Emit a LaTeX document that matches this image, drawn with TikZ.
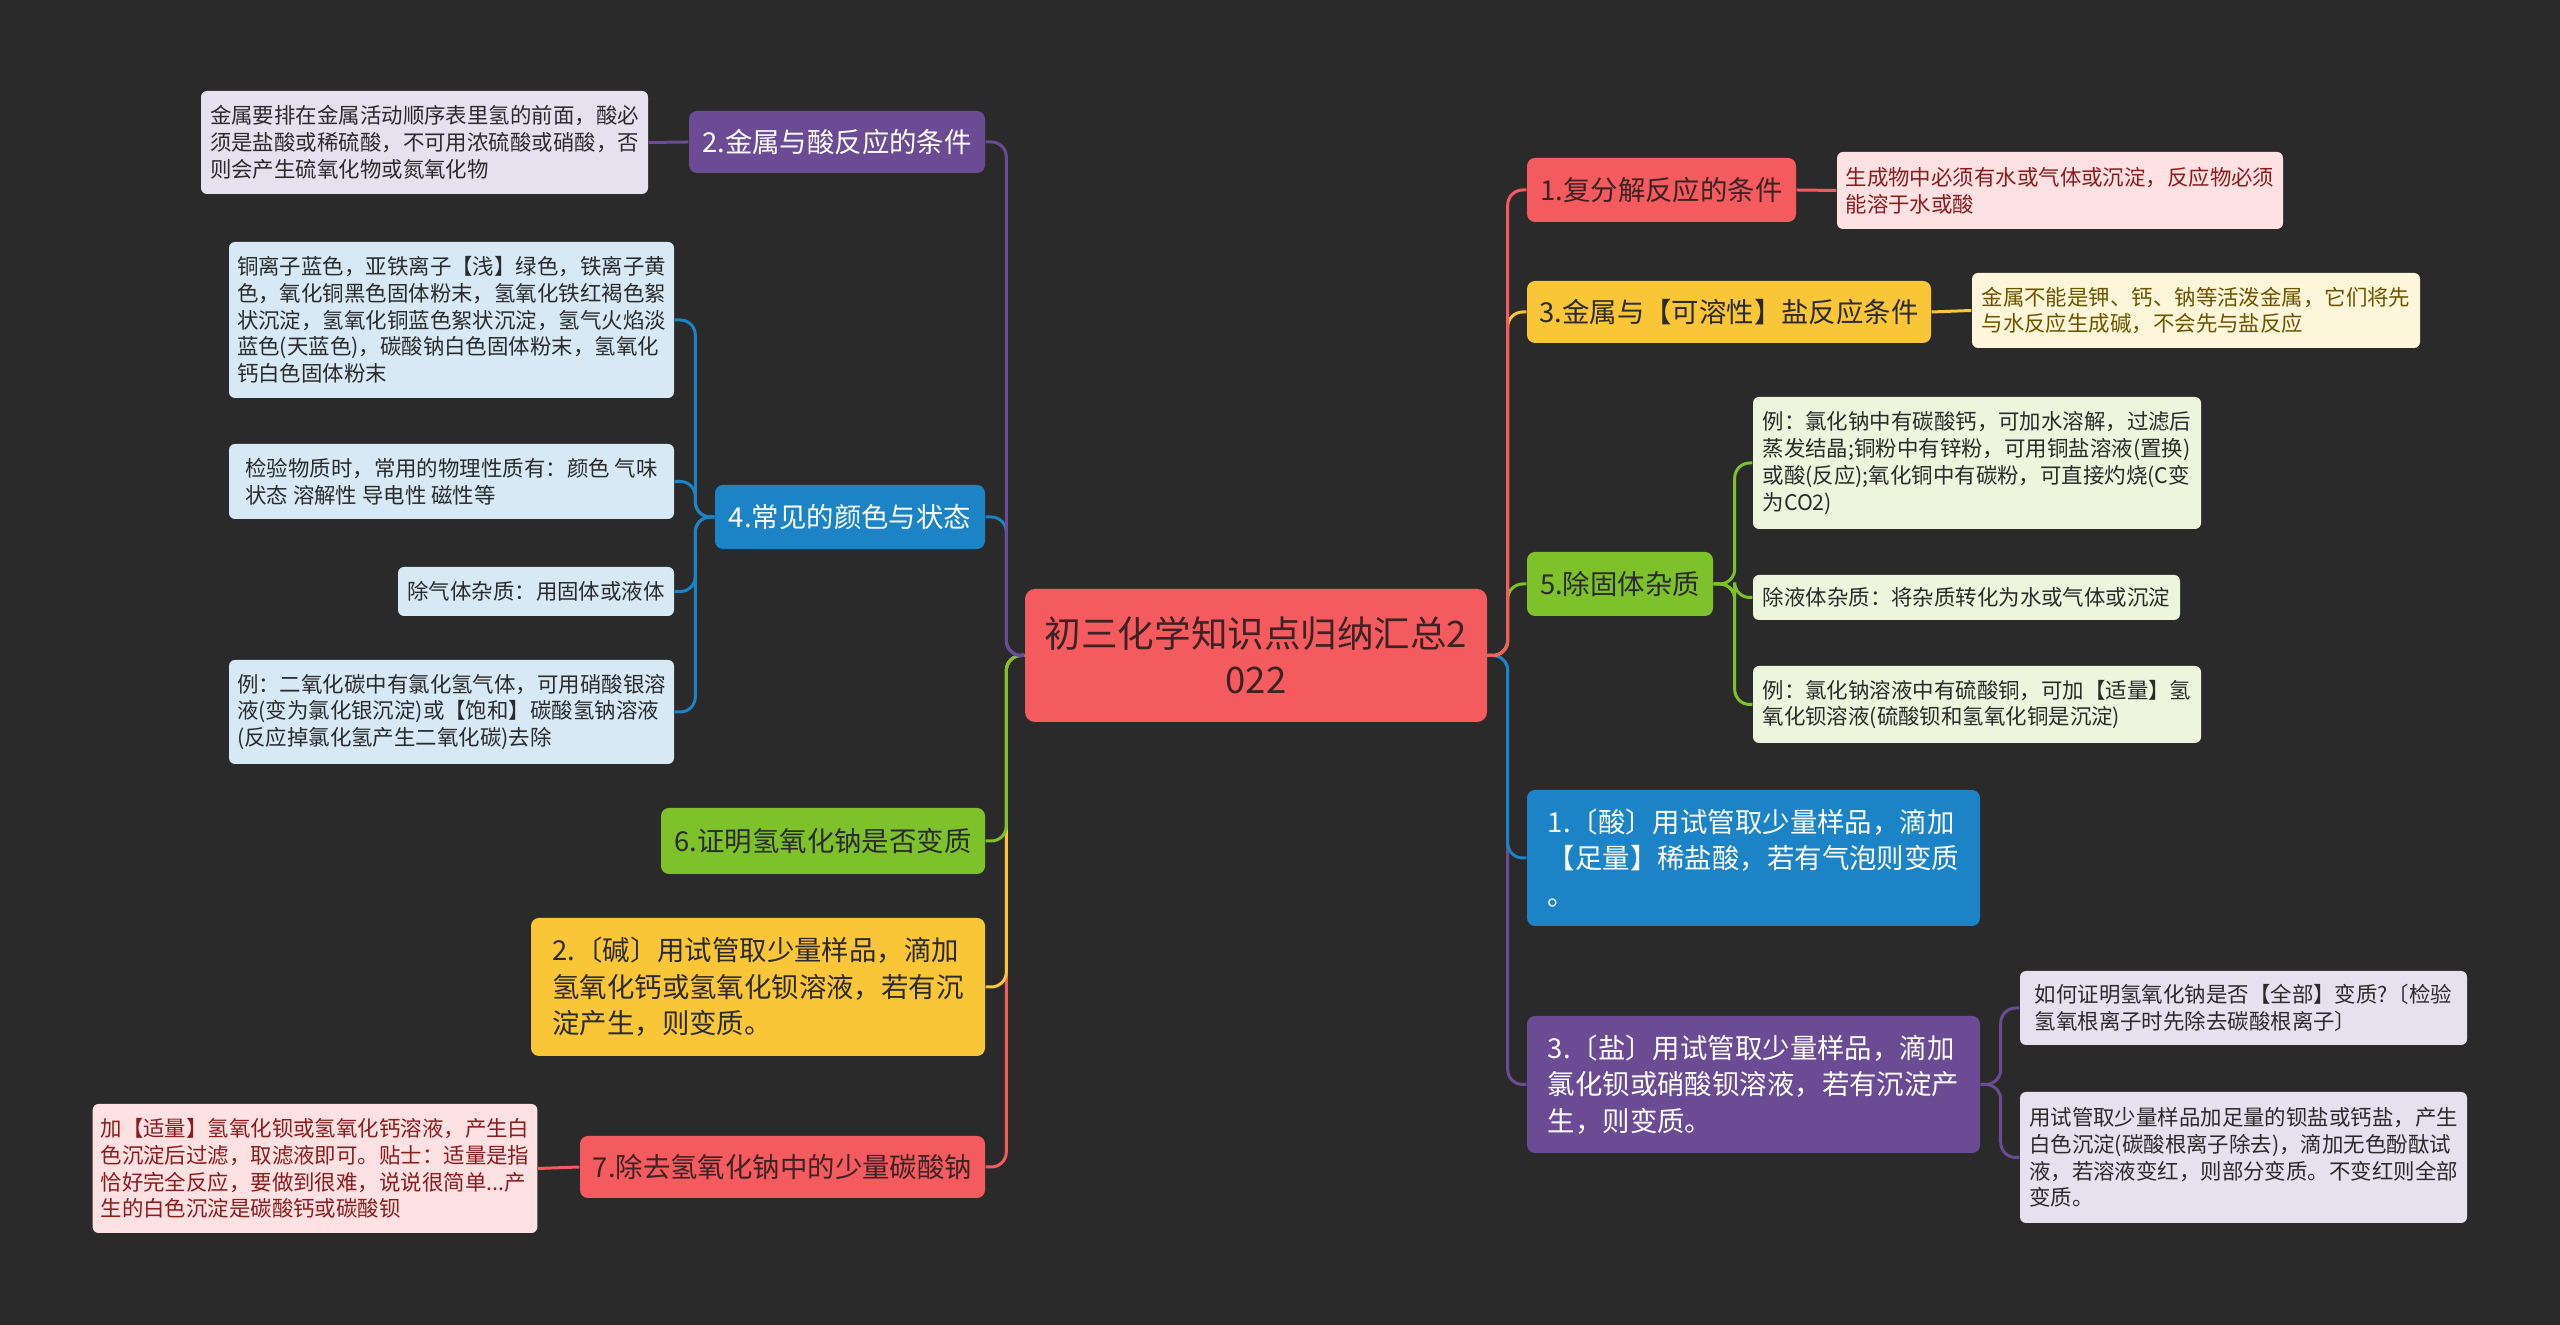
\documentclass[tikz,border=0pt]{standalone}
\usepackage{fontspec}
\setmainfont{Noto Sans CJK SC}
\usetikzlibrary{calc}

\definecolor{bgdark}{HTML}{2A2A2A}
\definecolor{cred}{HTML}{F45B5E}
\definecolor{cpurple}{HTML}{6B4C94}
\definecolor{cblue}{HTML}{1C83C6}
\definecolor{cgreen}{HTML}{7DC22B}
\definecolor{cyellow}{HTML}{F8C636}
\definecolor{lpurple}{HTML}{E6E1EF}
\definecolor{lblue}{HTML}{D6E9F5}
\definecolor{lpink}{HTML}{FDE1E3}
\definecolor{lyellow}{HTML}{FDF6DA}
\definecolor{lgreen}{HTML}{EDF5DC}
\definecolor{inkdark}{HTML}{2B2B2B}
\definecolor{inkred}{HTML}{3C2224}
\definecolor{inkpink}{HTML}{8C1D1F}
\definecolor{inkyellow}{HTML}{6E5300}

\tikzset{
  sz/.style 2 args={minimum width=#1mm, minimum height=#2mm},
  root/.style={fill=cred, text=inkred, rounded corners=1mm, inner sep=0,
    align=center, font=\fontsize{10.4}{13.2}\selectfont},
  topic/.style={rounded corners=0.8mm, inner sep=1mm, align=left,
    font=\fontsize{7.8}{10.4}\selectfont},
  leaf/.style={rounded corners=0.6mm, inner sep=0.8mm, align=left,
    text=inkdark, font=\fontsize{6.1}{7.6}\selectfont},
  link/.style={draw=#1, line width=0.85pt, rounded corners=1.5mm},
}

\begin{document}
\begin{tikzpicture}[x=0.1mm, y=-0.1mm]
\fill[bgdark] (0,0) rectangle (2560,1325);
\useasboundingbox (0,0) rectangle (2560,1325);

% centre
\node[root, sz={46.2}{13.3}] (root) at (1256,655.5) {初三化学知识点归纳汇总2\\022};

% left branches
\node[topic, sz={29.6}{6.2}, fill=cpurple, text=white] (acid) at (837,142) {2.金属与酸反应的条件};
\node[leaf, sz={44.7}{10.3}, fill=lpurple] (acidN) at (424.5,142.5) {金属要排在金属活动顺序表里氢的前面，酸必\\须是盐酸或稀硫酸，不可用浓硫酸或硝酸，否\\则会产生硫氧化物或氮氧化物};

\node[topic, sz={27}{6.4}, fill=cblue, text=white] (color) at (850,517) {4.常见的颜色与状态};
\node[leaf, sz={44.5}{15.6}, fill=lblue] (colorA) at (451.5,320) {铜离子蓝色，亚铁离子【浅】绿色，铁离子黄\\色，氧化铜黑色固体粉末，氢氧化铁红褐色絮\\状沉淀，氢氧化铜蓝色絮状沉淀，氢气火焰淡\\蓝色(天蓝色)，碳酸钠白色固体粉末，氢氧化\\钙白色固体粉末};
\node[leaf, sz={44.5}{7.5}, fill=lblue] (colorB) at (451.5,481.5) {检验物质时，常用的物理性质有：颜色 气味\\状态 溶解性 导电性 磁性等};
\node[leaf, sz={27.6}{4.9}, fill=lblue] (colorC) at (536,591.5) {除气体杂质：用固体或液体};
\node[leaf, sz={44.5}{10.4}, fill=lblue] (colorD) at (451.5,712) {例：二氧化碳中有氯化氢气体，可用硝酸银溶\\液(变为氯化银沉淀)或【饱和】碳酸氢钠溶液\\{(反应掉氯化氢产生二氧化碳)去除}};

\node[topic, sz={32.4}{6.6}, fill=cgreen, text=inkdark] (proof) at (823,841) {6.证明氢氧化钠是否变质};
\node[topic, sz={45.4}{13.8}, fill=cyellow, text=inkdark] (base) at (758,987) {2.〔碱〕用试管取少量样品，滴加\\氢氧化钙或氢氧化钡溶液，若有沉\\淀产生，则变质。};

\node[topic, sz={40.5}{6.2}, fill=cred, text=inkred] (remove) at (782.5,1167) {7.除去氢氧化钠中的少量碳酸钠};
\node[leaf, sz={44.4}{12.9}, fill=lpink, text=inkpink] (removeN) at (315,1168.5) {加【适量】氢氧化钡或氢氧化钙溶液，产生白\\色沉淀后过滤，取滤液即可。贴士：适量是指\\恰好完全反应，要做到很难，说说很简单...产\\生的白色沉淀是碳酸钙或碳酸钡};

% right branches
\node[topic, sz={26.9}{6.4}, fill=cred, text=inkred] (swap) at (1661.5,190) {1.复分解反应的条件};
\node[leaf, sz={44.6}{7.7}, fill=lpink, text=inkpink] (swapN) at (2060,190.5) {生成物中必须有水或气体或沉淀，反应物必须\\能溶于水或酸};

\node[topic, sz={40.4}{6.2}, fill=cyellow, text=inkdark] (salt) at (1729,312) {3.金属与【可溶性】盐反应条件};
\node[leaf, sz={44.8}{7.5}, fill=lyellow, text=inkyellow] (saltN) at (2196,310.5) {金属不能是钾、钙、钠等活泼金属，它们将先\\与水反应生成碱，不会先与盐反应};

\node[topic, sz={18.6}{6.4}, fill=cgreen, text=inkdark] (solid) at (1620,584) {5.除固体杂质};
\node[leaf, sz={44.8}{13.2}, fill=lgreen] (solidA) at (1977,463) {例：氯化钠中有碳酸钙，可加水溶解，过滤后\\蒸发结晶;铜粉中有锌粉，可用铜盐溶液(置换)\\或酸(反应);氧化铜中有碳粉，可直接灼烧(C变\\为CO2)};
\node[leaf, sz={42.7}{4.5}, fill=lgreen] (solidB) at (1966.5,597.5) {除液体杂质：将杂质转化为水或气体或沉淀};
\node[leaf, sz={44.8}{7.7}, fill=lgreen] (solidC) at (1977,704.5) {例：氯化钠溶液中有硫酸铜，可加【适量】氢\\氧化钡溶液(硫酸钡和氢氧化铜是沉淀)};

\node[topic, sz={45.3}{13.6}, fill=cblue, text=white] (acidT) at (1753.5,858) {1.〔酸〕用试管取少量样品，滴加\\【足量】稀盐酸，若有气泡则变质\\。};
\node[topic, sz={45.3}{13.7}, fill=cpurple, text=white] (saltT) at (1753.5,1084.5) {3.〔盐〕用试管取少量样品，滴加\\氯化钡或硝酸钡溶液，若有沉淀产\\生，则变质。};
\node[leaf, sz={44.7}{7.4}, fill=lpurple] (saltTA) at (2243.5,1008) {如何证明氢氧化钠是否【全部】变质?〔检验\\氢氧根离子时先除去碳酸根离子〕};
\node[leaf, sz={44.7}{13.1}, fill=lpurple] (saltTB) at (2243.5,1157.5) {用试管取少量样品加足量的钡盐或钙盐，产生\\白色沉淀(碳酸根离子除去)，滴加无色酚酞试\\液，若溶液变红，则部分变质。不变红则全部\\变质。};

% forks
\coordinate (lfork) at ([xshift=-1.8mm]root.west);
\coordinate (rfork) at ([xshift=2mm]root.east);
\coordinate (cfork) at ([xshift=-1.9mm]color.west);
\coordinate (sfork) at ([xshift=2.1mm]solid.east);
\coordinate (tfork) at ([xshift=2mm]saltT.east);

% connectors from the centre
\draw[link=cred] (root.west) -- (lfork) |- (remove.east);
\draw[link=cyellow] (root.west) -- (lfork) |- (base.east);
\draw[link=cgreen] (root.west) -- (lfork) |- (proof.east);
\draw[link=cblue] (root.west) -- (lfork) |- (color.east);
\draw[link=cpurple] (root.west) -- (lfork) |- (acid.east);

\draw[link=cpurple] (root.east) -- (rfork) |- (saltT.west);
\draw[link=cblue] (root.east) -- (rfork) |- (acidT.west);
\draw[link=cgreen] (root.east) -- (rfork) |- (solid.west);
\draw[link=cyellow] (root.east) -- (rfork) |- (salt.west);
\draw[link=cred] (root.east) -- (rfork) |- (swap.west);

% leaves
\draw[link=cpurple] (acid.west) -- (acidN.east);
\draw[link=cred] (remove.west) -- (removeN.east);
\draw[link=cred] (swap.east) -- (swapN.west);
\draw[link=cyellow] (salt.east) -- (saltN.west);
\foreach \n in {colorA,colorB,colorC,colorD}
  \draw[link=cblue] (color.west) -- (cfork) |- (\n.east);
\foreach \n in {solidA,solidB,solidC}
  \draw[link=cgreen] (solid.east) -- (sfork) |- (\n.west);
\foreach \n in {saltTA,saltTB}
  \draw[link=cpurple] (saltT.east) -- (tfork) |- (\n.west);
\end{tikzpicture}
\end{document}
